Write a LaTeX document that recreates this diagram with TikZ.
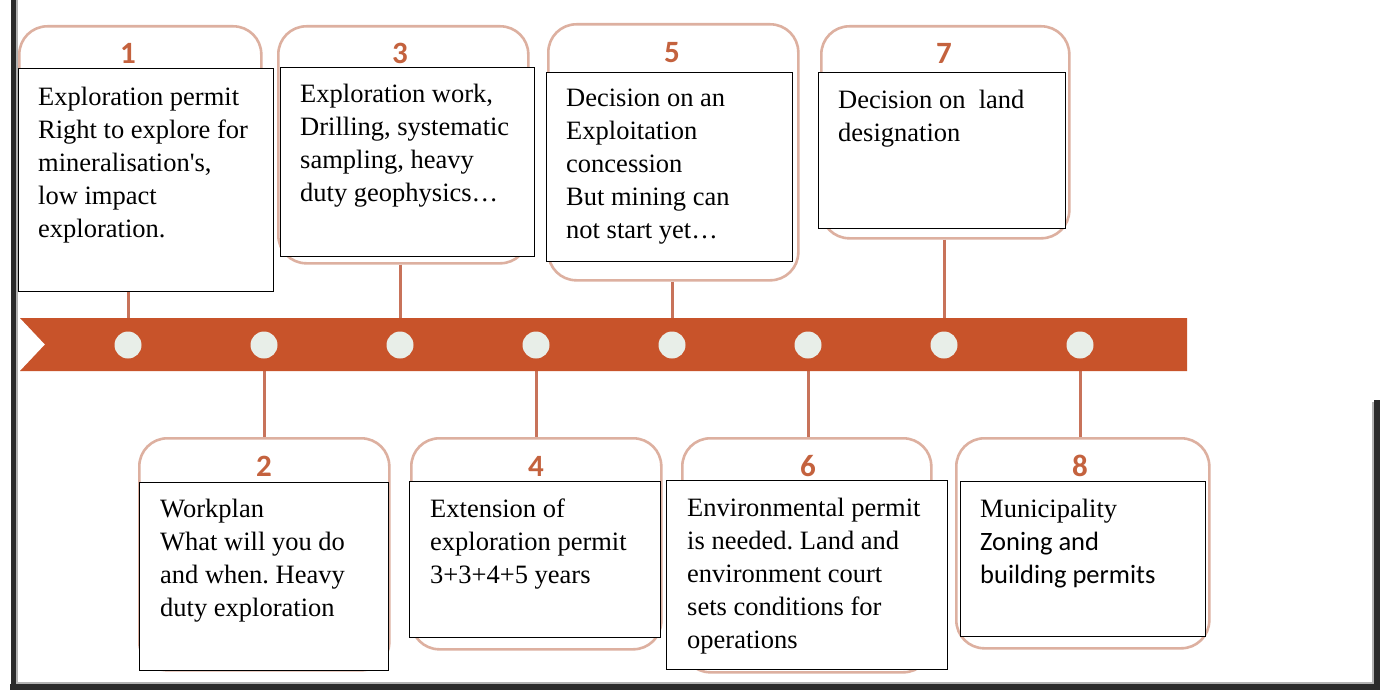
\documentclass[tikz,border=0pt]{standalone}
\usepackage{fontspec}
\setmainfont{Liberation Serif}
\newfontfamily\calib{Carlito}
\frenchspacing
\definecolor{bandc}{HTML}{C8532A}
\definecolor{dotc}{HTML}{E8EEE8}
\definecolor{framec}{HTML}{DDB0A0}
\definecolor{connc}{HTML}{C8735A}
\definecolor{numc}{HTML}{C4623E}
\definecolor{borderc}{HTML}{2A2A2A}
\tikzset{
  framebox/.style={draw=framec, line width=2.6pt, rounded corners=28pt, fill=white, anchor=north west, inner sep=0pt},
  blackbox/.style={draw=black, line width=1.4pt, fill=white, anchor=north west, inner sep=0pt},
  txt/.style={anchor=north west, inner sep=0pt, align=left, font=\fontsize{26.5}{33}\selectfont},
  num/.style={font=\calib\bfseries\fontsize{31}{31}\selectfont, text=numc, inner sep=0pt},
  conn/.style={draw=connc, line width=3pt},
  dotnode/.style={circle, fill=dotc, minimum size=27pt, inner sep=0pt},
}
\begin{document}
\begin{tikzpicture}[x=1pt,y=-1pt]
\useasboundingbox (0,0) rectangle (1383,693);
\fill[white] (0,0) rectangle (1383,693);
% dot positions
\foreach \i/\x in {1/128,2/264,3/400,4/536,5/672,6/808,7/944,8/1080}
  \coordinate (c\i) at (\x,345);
% orange frames
\node[framebox, minimum width=242pt, minimum height=262pt] (f1) at (18,25) {};
\node[framebox, minimum width=250pt, minimum height=237pt] (f3) at (277,25) {};
\node[framebox, minimum width=250pt, minimum height=256pt] (f5) at (547,23) {};
\node[framebox, minimum width=248pt, minimum height=212pt] (f7) at (820,25) {};
\node[framebox, minimum width=250pt, minimum height=232pt] (f2) at (138,437) {};
\node[framebox, minimum width=250pt, minimum height=211pt] (f4) at (410,437) {};
\node[framebox, minimum width=249pt, minimum height=234pt] (f6) at (681,437) {};
\node[framebox, minimum width=253pt, minimum height=210pt] (f8) at (955,437) {};
% numbers
\node[num] (n1) at (c1 |- 0,53) {1};
\node[num] (n3) at (c3 |- 0,53) {3};
\node[num] (n5) at (c5 |- 0,53) {5};
\node[num] (n7) at (c7 |- 0,53) {7};
\node[num] (n2) at (c2 |- 0,466) {2};
\node[num] (n4) at (c4 |- 0,466) {4};
\node[num] (n6) at (c6 |- 0,466) {6};
\node[num] (n8) at (c8 |- 0,466) {8};
% connectors
\draw[conn] (c1 |- f1.south) -- (c1);
\draw[conn] (c3 |- f3.south) -- (c3);
\draw[conn] (c5 |- f5.south) -- (c5);
\draw[conn] (c7 |- f7.south) -- (c7);
\draw[conn] (c2) -- (c2 |- f2.north);
\draw[conn] (c4) -- (c4 |- f4.north);
\draw[conn] (c6) -- (c6 |- f6.north);
\draw[conn] (c8) -- (c8 |- f8.north);
% band
\fill[bandc] (20,318) -- (1187,318) -- (1187,371) -- (20,371) -- (45,344.5) -- cycle;
\foreach \i in {1,...,8}
  \node[dotnode] (d\i) at (c\i) {};
% black boxes
\node[blackbox, minimum width=255pt, minimum height=223pt] (b1) at (18,68) {};
\node[blackbox, minimum width=254pt, minimum height=189pt] (b3) at (280,67) {};
\node[blackbox, minimum width=246pt, minimum height=189pt] (b5) at (546,72) {};
\node[blackbox, minimum width=247pt, minimum height=156pt] (b7) at (818,72) {};
\node[blackbox, minimum width=249pt, minimum height=188pt] (b2) at (139,482) {};
\node[blackbox, minimum width=251pt, minimum height=156pt] (b4) at (409,481) {};
\node[blackbox, minimum width=281pt, minimum height=189pt] (b6) at (666,480) {};
\node[blackbox, minimum width=245pt, minimum height=155pt] (b8) at (960,481) {};
% texts
\node[txt] (t1) at (38,87) {Exploration permit\\Right to explore for\\mineralisation\textquotesingle s,\\low impact\\exploration.};
\node[txt] (t3) at (300,84) {Exploration work,\\Drilling, systematic\\sampling, heavy\\duty geophysics\dots};
\node[txt] (t5) at (566,89) {Decision on an\\Exploitation\\concession\\But mining can\\not start yet\dots};
\node[txt] (t7) at (838,90) {Decision on~ land\\designation};
\node[txt] (t2) at (160,499) {Workplan\\What will you do\\and when. Heavy\\duty exploration};
\node[txt] (t4) at (430,499) {Extension of\\exploration permit\\3+3+4+5 years};
\node[txt] (t6) at (687,498) {Environmental permit\\is needed. Land and\\environment court\\sets conditions for\\operations};
\node[txt] (t8) at (980,499) {Municipality\\{\calib Zoning and}\\{\calib building permits}};
% outer frame
\draw[borderc, line width=5pt] (13,0) -- (13,687);
\draw[borderc, line width=6pt] (10,687) -- (1380,687);
\draw[borderc, line width=6pt] (1377,400) -- (1377,690);
\draw[gray!60, line width=2pt] (17,0) -- (17,683) -- (1373,683) -- (1373,402);
\end{tikzpicture}
\end{document}
